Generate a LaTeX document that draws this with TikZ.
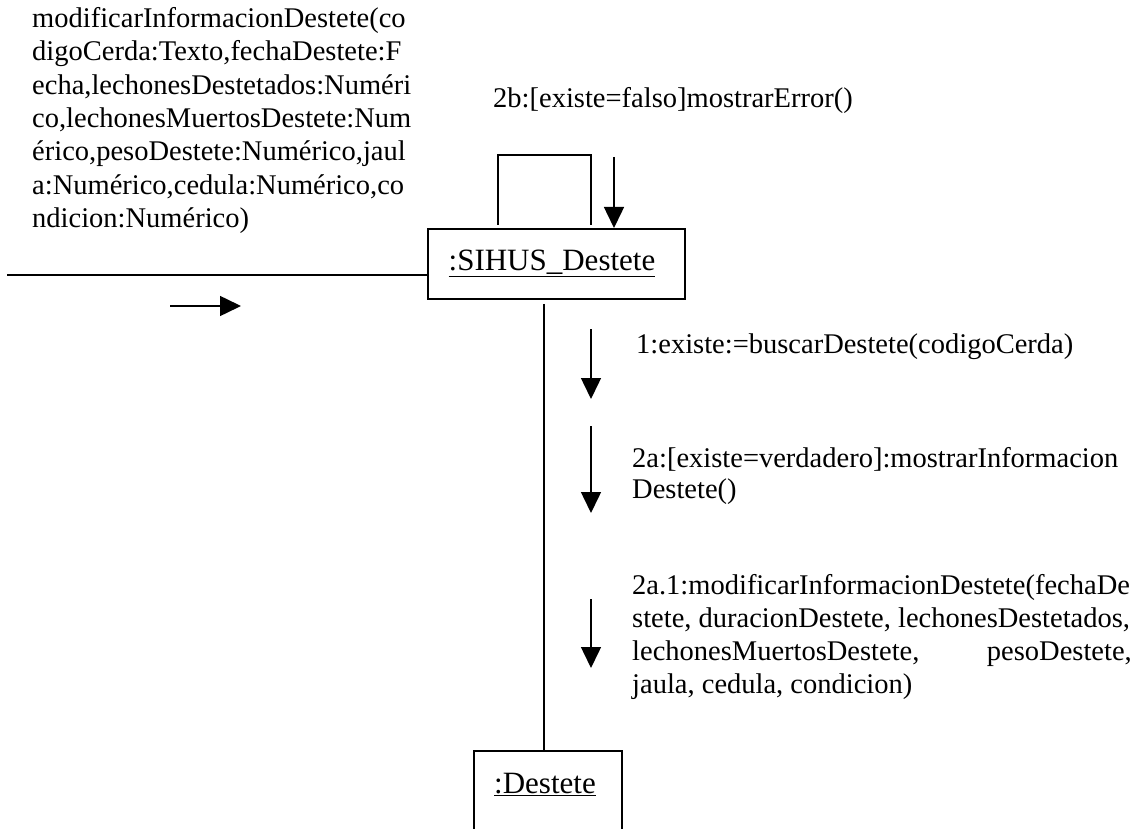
\documentclass[tikz,border=0pt]{standalone}
\usepackage{fontspec}
\setmainfont{Liberation Serif}
\usetikzlibrary{arrows.meta,calc}
\tikzset{
  lbl/.style={anchor=base west, inner sep=0pt, font=\fontsize{28.5}{33}\selectfont},
  lble/.style={anchor=base east, inner sep=0pt, font=\fontsize{28.5}{33}\selectfont},
  objlbl/.style={anchor=base, inner sep=0pt, font=\fontsize{31}{36}\selectfont},
  wire/.style={line width=1.5pt},
  msg/.style={line width=1.5pt, -{Triangle[width=20pt,length=21pt]}},
}
\begin{document}
\begin{tikzpicture}[x=1pt,y=-1pt]
\useasboundingbox (0,0) rectangle (1141,829);
\fill[white] (0,0) rectangle (1141,829);

% objects
\node[draw, wire, minimum width=257pt, minimum height=70pt, inner sep=0pt] (sihus) at (556.5,264) {};
\node[objlbl] (sihuslbl) at (552,271) {\underline{:SIHUS\_Destete}};
\coordinate (dtl) at (474,751);
\coordinate (dtr) at (622,751);
\draw[wire] (474,840) -- (dtl) -- (dtr) -- (622,840);
\node[objlbl] (destetelbl) at (545,793) {\underline{:Destete}};

% links
\coordinate (vx) at (544,0);
\draw[wire] ([yshift=-4pt]sihus.south -| vx) -- (dtl -| vx);
\coordinate (lin) at (7,275);
\draw[wire] (lin) -- (lin -| sihus.west);
\coordinate (loopa) at (498,225);
\coordinate (loopb) at (591,225);
\draw[wire] (loopa) -- (498,155) -- (591,155) -- (loopb);

% message arrows
\coordinate (m0s) at (170,306); \coordinate (m0e) at (241,306);
\draw[msg] (m0s) -- (m0e);
\coordinate (m2bs) at (614,157); \coordinate (m2be) at (614,228);
\draw[msg] (m2bs) -- (m2be);
\coordinate (m1s) at (591,329); \coordinate (m1e) at (591,399);
\draw[msg] (m1s) -- (m1e);
\coordinate (m2as) at (591,426); \coordinate (m2ae) at (591,513);
\draw[msg] (m2as) -- (m2ae);
\coordinate (m3s) at (591,599); \coordinate (m3e) at (591,668);
\draw[msg] (m3s) -- (m3e);

% left message text
\node[lbl] (t1) at (32,28) {modificarInformacionDestete(co};
\node[lbl] (t2) at (32,61) {digoCerda:Texto,fechaDestete:F};
\node[lbl] (t3) at (32,95) {echa,lechonesDestetados:Numéri};
\node[lbl] (t4) at (32,128) {co,lechonesMuertosDestete:Num};
\node[lbl] (t5) at (32,161) {érico,pesoDestete:Numérico,jaul};
\node[lbl] (t6) at (32,195) {a:Numérico,cedula:Numérico,co};
\node[lbl] (t7) at (32,228) {ndicion:Numérico)};

% other labels
\node[lbl] (l2b) at (493,108) {2b:[existe=falso]mostrarError()};
\node[lbl] (l1) at (636,353) {1:existe:=buscarDestete(codigoCerda)};
\node[lbl] (l2a1) at (632,467) {2a:[existe=verdadero]:mostrarInformacion};
\node[lbl] (l2a2) at (632,498) {Destete()};
\node[lbl] (l3a) at (632,594) {2a.1:modificarInformacionDestete(fechaDe};
\node[lbl] (l3b) at (632,627) {stete, duracionDestete, lechonesDestetados,};
\node[lbl] (l3c) at (632,660) {lechonesMuertosDestete,};
\node[lble] (l3d) at (1132,660) {pesoDestete,};
\node[lbl] (l3e) at (632,693) {jaula, cedula, condicion)};
\end{tikzpicture}
\end{document}
